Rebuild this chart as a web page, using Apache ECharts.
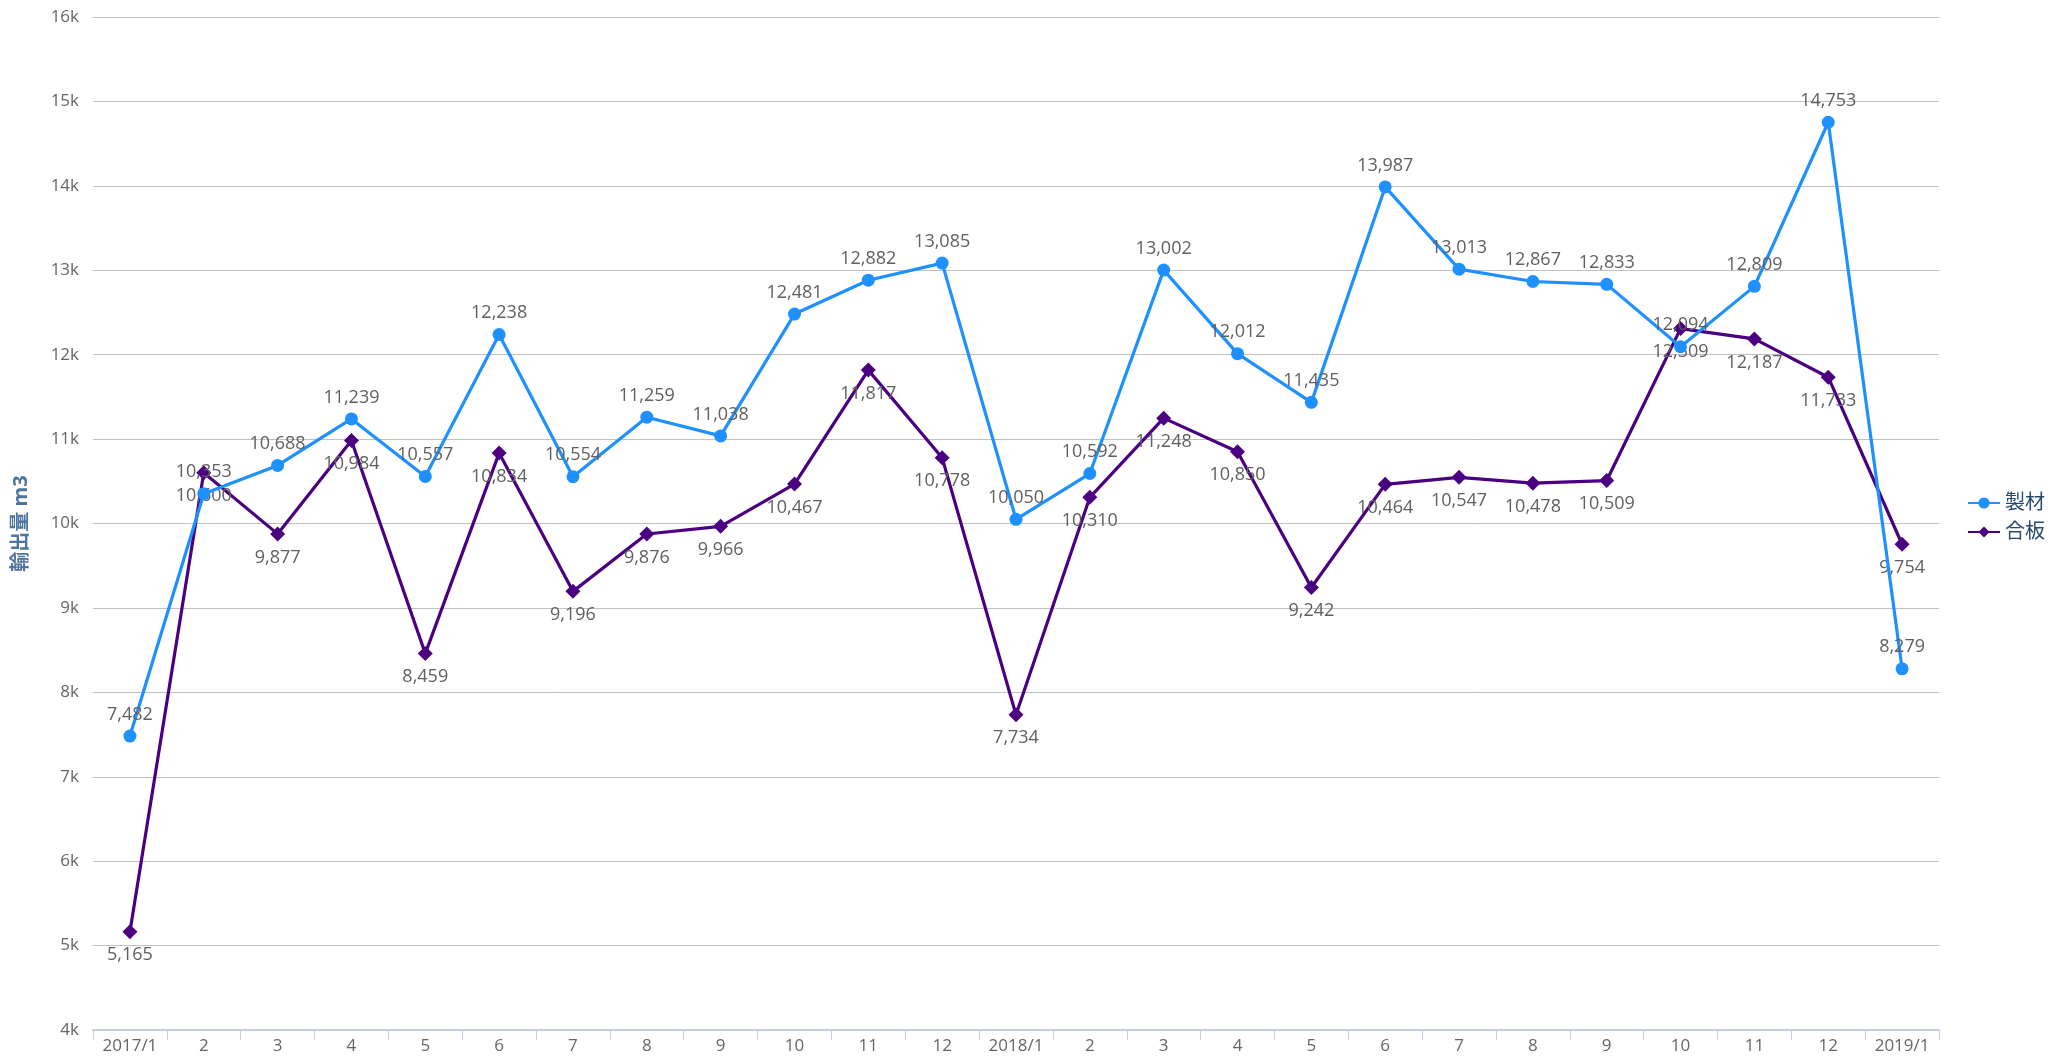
<!DOCTYPE html>
<html><head><meta charset="utf-8">
<script src="https://cdn.jsdelivr.net/npm/echarts@6/dist/echarts.min.js"></script>
<style>html,body{margin:0;padding:0;background:#fff}#c{width:2067px;height:1064px}</style>
</head><body><div id="c"></div>
<script>
const categories = ['2017/1','2','3','4','5','6','7','8','9','10','11','12','2018/1','2','3','4','5','6','7','8','9','10','11','12','2019/1'];
const lumber = [7482,10353,10688,11239,10557,12238,10554,11259,11038,12481,12882,13085,10050,10592,13002,12012,11435,13987,13013,12867,12833,12094,12809,14753,8279];
const plywood = [5165,10600,9877,10984,8459,10834,9196,9876,9966,10467,11817,10778,7734,10310,11248,10850,9242,10464,10547,10478,10509,12309,12187,11733,9754];
const seriesNames = ['製材','合板'];
const yAxisName = '輸出量 m3';

const FONT = "'Open Sans', 'Noto Sans CJK JP', sans-serif";
const fmt = v => v.toLocaleString('en-US');
const chart = echarts.init(document.getElementById('c'), null, {renderer:'canvas'});
chart.setOption({
  animation:false,
  textStyle:{fontFamily:FONT},
  grid:{left:93,right:128,top:17,bottom:34,containLabel:false},
  legend:{
    orient:'vertical', left:1962, top:488,
    itemWidth:32, itemHeight:14, itemGap:9,
    textStyle:{color:'#274b6d', fontSize:20, fontFamily:FONT},
    data:seriesNames
  },
  xAxis:{
    type:'category', data:categories, boundaryGap:true,
    axisLine:{lineStyle:{color:'#C0D0E0', width:2}},
    axisTick:{show:true, length:10, lineStyle:{color:'#C0D0E0', width:1}},
    axisLabel:{color:'#666', fontSize:17, margin:8, interval:0, fontFamily:FONT}
  },
  yAxis:{
    type:'value', min:4000, max:16000, interval:1000,
    name:yAxisName, nameLocation:'middle', nameGap:62, nameRotate:90,
    nameTextStyle:{color:'#4d759e', fontSize:20, fontWeight:'bold', fontFamily:FONT},
    axisLine:{show:false}, axisTick:{show:false},
    axisLabel:{color:'#666', fontSize:17, margin:14, formatter:v=>(v/1000)+'k', fontFamily:FONT},
    splitLine:{lineStyle:{color:'#C0C0C0', width:1}}
  },
  series:[
    {
      name:seriesNames[0], type:'line', data:lumber,
      symbol:'circle', symbolSize:13,
      lineStyle:{color:'#1E90FF', width:3.2},
      itemStyle:{color:'#1E90FF'},
      label:{show:true, position:'top', distance:6, color:'#606060', fontSize:18, fontFamily:FONT, formatter:p=>fmt(p.value)},
      labelLayout:{hideOverlap:false},
      z:3
    },
    {
      name:seriesNames[1], type:'line', data:plywood,
      symbol:'diamond', symbolSize:15,
      lineStyle:{color:'#4B0082', width:3.2},
      itemStyle:{color:'#4B0082'},
      label:{show:true, position:'bottom', distance:7, color:'#606060', fontSize:18, fontFamily:FONT, formatter:p=>fmt(p.value)},
      labelLayout:{hideOverlap:false},
      z:2
    }
  ]
});
</script></body></html>
